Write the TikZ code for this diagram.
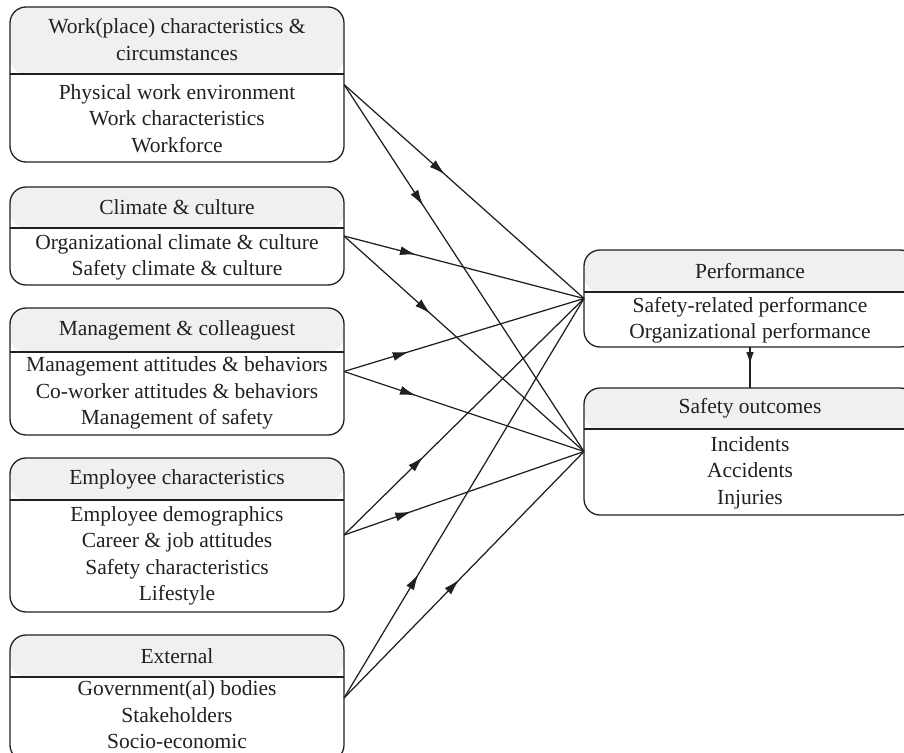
\documentclass[tikz,border=0pt]{standalone}
\usepackage{fontspec}
\setmainfont{Liberation Serif}
\usetikzlibrary{arrows.meta,decorations.markings}
\definecolor{hdr}{RGB}{239,240,242}
\definecolor{ink}{RGB}{35,31,32}
\begin{document}
\begin{tikzpicture}[x=1pt,y=-1pt,
  catbox/.style={draw=ink, line width=1.3pt, rounded corners=16pt, minimum width=334pt,
    inner sep=0pt, outer sep=0pt,
    path picture={
      \fill[hdr] (path picture bounding box.north west) rectangle ([yshift=-#1]path picture bounding box.north east);
      \draw[ink, line width=1.3pt] ([yshift=-#1]path picture bounding box.north west) -- ([yshift=-#1]path picture bounding box.north east);
    }},
  txt/.style={font=\fontsize{21.5}{26.5}\selectfont, align=center, text=ink, inner sep=0pt},
  conn/.style={draw=ink, line width=1.25pt},
  midarrow/.style={postaction={decorate, decoration={markings,
    mark=at position #1 with {\arrow[ink]{Latex[length=16pt,width=9pt]}}}}},
  smallarrow/.style={postaction={decorate, decoration={markings,
    mark=at position #1 with {\arrow[ink]{Latex[length=12pt,width=7.5pt]}}}}}
]
\useasboundingbox (0,0) rectangle (904,752);

% left boxes
\node[catbox=67pt, minimum height=155pt] (w1) at (177,84.5) {};
\node[txt] (w1h) at (177,39.5) {Work(place) characteristics \&\\circumstances};
\node[txt] (w1b) at (177,118.5) {Physical work environment\\Work characteristics\\Workforce};

\node[catbox=41pt, minimum height=98pt] (w2) at (177,236) {};
\node[txt] (w2h) at (177,207.5) {Climate \& culture};
\node[txt] (w2b) at (177,257.5) {Organizational climate \& culture\\Safety climate \& culture};

\node[catbox=44pt, minimum height=127pt] (w3) at (177,371.5) {};
\node[txt] (w3h) at (177,330) {Management \& colleaguest};
\node[txt] (w3b) at (177,393) {Management attitudes \& behaviors\\Co-worker attitudes \& behaviors\\Management of safety};

\node[catbox=42pt, minimum height=154pt] (w4) at (177,535) {};
\node[txt] (w4h) at (177,479) {Employee characteristics};
\node[txt] (w4b) at (177,556) {Employee demographics\\Career \& job attitudes\\Safety characteristics\\Lifestyle};

\node[catbox=42pt, minimum height=126pt] (w5) at (177,698) {};
\node[txt] (w5h) at (177,656) {External};
\node[txt] (w5b) at (177,715) {Government(al) bodies\\Stakeholders\\Socio-economic};

% right boxes
\node[catbox=42pt, minimum width=332pt, minimum height=97pt] (perf) at (750,298.5) {};
\node[txt] (perfh) at (750,271) {Performance};
\node[txt] (perfb) at (750,320) {Safety-related performance\\Organizational performance};

\node[catbox=41pt, minimum width=332pt, minimum height=127pt] (safe) at (750,451.5) {};
\node[txt] (safeh) at (750,408.5) {Safety outcomes};
\node[txt] (safeb) at (750,472.5) {Incidents\\Accidents\\Injuries};

% connectors
\draw[conn, midarrow=0.42] (w1.east) -- (perf.west);
\draw[conn, midarrow=0.33] (w1.east) -- (safe.west);
\draw[conn, midarrow=0.30] (w2.east) -- (perf.west);
\draw[conn, midarrow=0.36] (w2.east) -- (safe.west);
\draw[conn, midarrow=0.27] (w3.east) -- (perf.west);
\draw[conn, midarrow=0.30] (w3.east) -- (safe.west);
\draw[conn, midarrow=0.33] (w4.east) -- (perf.west);
\draw[conn, midarrow=0.28] (w4.east) -- (safe.west);
\draw[conn, midarrow=0.31] (w5.east) -- (perf.west);
\draw[conn, midarrow=0.48] (w5.east) -- (safe.west);
\draw[conn, smallarrow=0.42] (perf.south) -- (safe.north);
\end{tikzpicture}
\end{document}
